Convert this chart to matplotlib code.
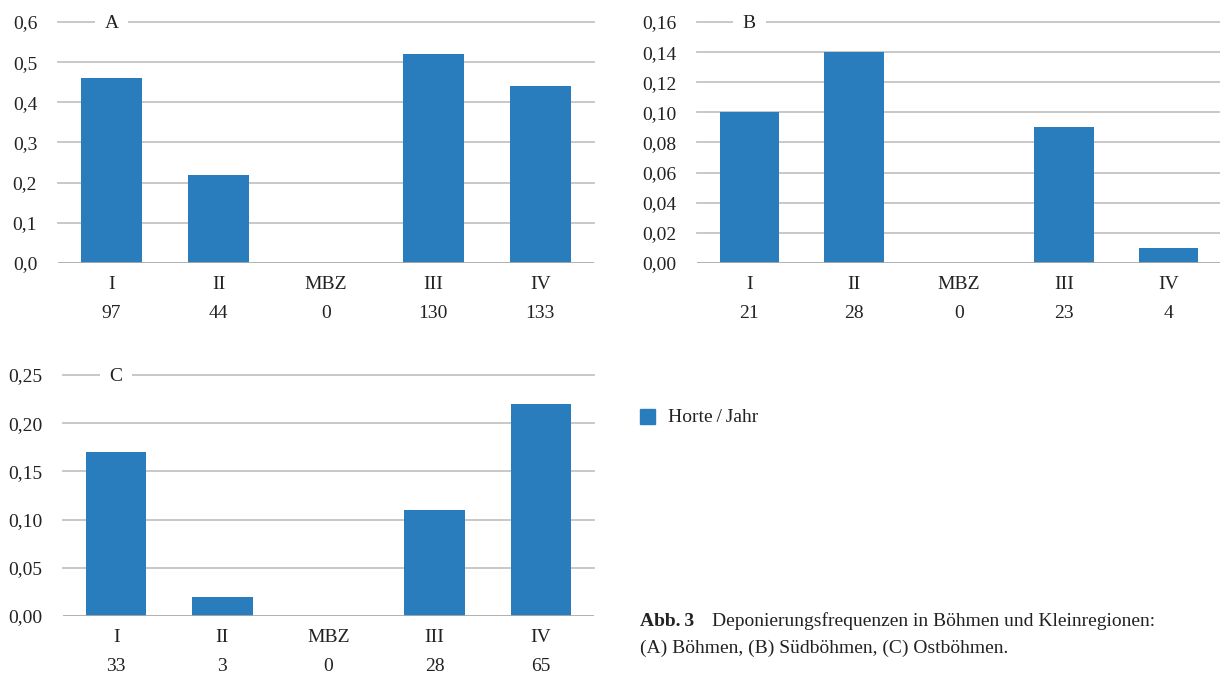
import matplotlib.pyplot as plt
from matplotlib.patches import Rectangle

plt.rcParams['font.family'] = ['Liberation Serif', 'DejaVu Serif']

categories = ["I", "II", "MBZ", "III", "IV"]

values_a = [0.46, 0.22, 0.0, 0.52, 0.44]
counts_a = [97, 44, 0, 130, 133]
values_b = [0.10, 0.14, 0.0, 0.09, 0.01]
counts_b = [21, 28, 0, 23, 4]
values_c = [0.17, 0.02, 0.0, 0.11, 0.22]
counts_c = [33, 3, 0, 28, 65]

ticks_a = [0.0, 0.1, 0.2, 0.3, 0.4, 0.5, 0.6]
ticks_b = [0.00, 0.02, 0.04, 0.06, 0.08, 0.10, 0.12, 0.14, 0.16]
ticks_c = [0.00, 0.05, 0.10, 0.15, 0.20, 0.25]

BLUE = "#2a7dbd"
GRID = "#c4c4c4"
BASE = "#a9a9a9"
INK = "#222222"
FS = 14

W, H = 1220, 674
fig = plt.figure(figsize=(W / 100, H / 100), dpi=100)


def px_axes(x0, x1, y0, y1):
    return fig.add_axes([x0 / W, 1 - y1 / H, (x1 - x0) / W, (y1 - y0) / H])


def panel(ax, values, counts, ticks, decimals, letter):
    x = range(len(categories))
    ax.bar(x, values, width=0.57, color=BLUE, zorder=3)
    ax.set_xlim(-0.5, len(categories) - 0.5)
    ax.set_ylim(ticks[0], ticks[-1])
    ax.set_yticks(ticks)
    ax.set_yticklabels([f"{t:.{decimals}f}".replace(".", ",") for t in ticks])
    ax.set_xticks(list(x))
    ax.set_xticklabels(categories)
    ax.tick_params(length=0, labelsize=FS, colors=INK)
    ax.tick_params(axis="x", pad=9.5)
    ax.tick_params(axis="y", pad=15)
    for t in ticks[1:]:
        ax.axhline(t, color=GRID, lw=1.3, zorder=1, clip_on=False)
    ax.axhline(0, color=BASE, lw=2, zorder=4)
    for s in ax.spines.values():
        s.set_visible(False)
    for i, c in enumerate(counts):
        ax.annotate(str(c), xy=(i, 0), xycoords=ax.get_xaxis_transform(),
                    xytext=(0, -36.5), textcoords="offset points",
                    ha="center", va="center", fontsize=FS, color=INK)
    ax.annotate(letter, xy=(0, ticks[-1]), xytext=(0, -1),
                textcoords="offset points", ha="center", va="center",
                fontsize=FS, color=INK, zorder=5,
                bbox=dict(facecolor="white", edgecolor="none", pad=7))


ax_a = px_axes(58, 594, 22, 263)
panel(ax_a, values_a, counts_a, ticks_a, 1, "A")

ax_b = px_axes(697, 1221, 22, 263)
panel(ax_b, values_b, counts_b, ticks_b, 2, "B")

ax_c = px_axes(63, 594, 375, 616)
panel(ax_c, values_c, counts_c, ticks_c, 2, "C")

# legend
fig.patches.append(Rectangle((640 / W, 1 - 424 / H), 15 / W, 15 / H,
                             transform=fig.transFigure, color=BLUE))
fig.text(668 / W, 1 - 417 / H, "Horte\u2009/\u2009Jahr", fontsize=FS,
         va="center", color=INK)

# caption
fig.text(640 / W, 1 - 621 / H, "Abb.\u20093", fontsize=FS, va="center",
         fontweight="bold", color=INK)
fig.text(712 / W, 1 - 621 / H,
         "Deponierungsfrequenzen in Böhmen und Kleinregionen:",
         fontsize=FS, va="center", color=INK)
fig.text(640 / W, 1 - 648 / H, "(A) Böhmen, (B) Südböhmen, (C) Ostböhmen.",
         fontsize=FS, va="center", color=INK)

fig.savefig("out.png", dpi=100)
